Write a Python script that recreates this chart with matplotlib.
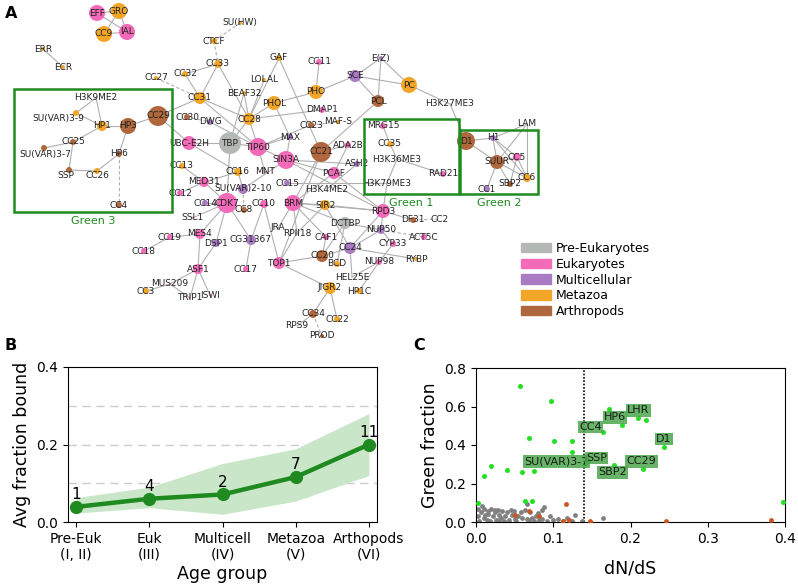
import matplotlib
matplotlib.use("Agg")
import matplotlib.pyplot as plt
from matplotlib.patches import Patch, Rectangle

# ---------------- panel A: network (layout, pixel units)
AGE_NAMES = ["Pre-Eukaryotes", "Eukaryotes", "Multicellular", "Metazoa", "Arthropods"]
AGE_COLORS = ["#b5b9b5", "#f36ab8", "#a97bc2", "#f2a527", "#b0673d"]

node_names = ["EFF", "GRO", "CC9", "IAL", "ERR", "ECR", "SU(HW)", "CTCF", "CC33", "CC27",
              "CC32", "LOLAL", "CC31", "BEAF32", "H3K9ME2", "SU(VAR)3-9", "HP1", "HP3", "CC29", "CC25",
              "SU(VAR)3-7", "HP6", "SSP", "CC26", "CC4", "CC30", "DWG", "CC28", "UBC-E2H", "TBP",
              "TIP60", "CC13", "CC16", "MNT", "MED31", "CC12", "SU(VAR)2-10", "CC14", "CDK7", "CC8",
              "CC10", "SSL1", "MES4", "CC19", "DSP1", "CG31367", "CC18", "ASF1", "CC17", "MUS209",
              "CC3", "TRIP1", "ISWI", "GAF", "CC11", "E(Z)", "SCE", "PC", "PHO", "PHOL",
              "PCL", "H3K27ME3", "DMAP1", "MAF-S", "CC23", "MAX", "CC21", "ADA2B", "SIN3A", "ASH2",
              "PCAF", "CC15", "H3K4ME2", "MRG15", "CC35", "H3K36ME3", "RAD21", "H3K79ME3", "D1", "H1",
              "LAM", "SUUR", "CC5", "CC6", "SBP2", "CC1", "BRM", "SIR2", "RPD3", "DF31",
              "CC2", "DCTBP", "NUP50", "ACT5C", "JRA", "RPII18", "CAF1", "CC24", "CYP33", "CC20",
              "BCD", "TOP1", "NUP98", "RYBP", "HEL25E", "JIGR2", "HP1C", "CC34", "CC22", "RPS9",
              "PROD"]
node_x = [97, 119, 104, 127, 43, 63, 240, 214, 218, 156,
          185, 264, 200, 244, 96, 76, 102, 128, 158, 73,
          44, 119, 69, 97, 119, 187, 210, 249, 189, 230,
          258, 182, 238, 265, 204, 180, 243, 205, 227, 244,
          264, 192, 200, 170, 216, 251, 144, 198, 246, 170,
          146, 190, 210, 279, 319, 381, 355, 409, 316, 274,
          378, 450, 322, 338, 311, 290, 321, 348, 286, 357,
          334, 287, 327, 383, 390, 397, 443, 387, 466, 493,
          527, 497, 517, 527, 510, 487, 293, 325, 383, 413,
          440, 345, 381, 424, 278, 297, 326, 350, 393, 322,
          337, 279, 379, 416, 352, 330, 359, 313, 337, 297,
          322]
node_y = [13, 11, 34, 32, 49, 67, 23, 41, 64, 78,
          74, 80, 98, 93, 98, 113, 126, 126, 116, 142,
          148, 154, 170, 171, 205, 117, 122, 119, 143, 143,
          147, 166, 172, 172, 182, 193, 189, 203, 203, 210,
          204, 218, 234, 237, 243, 240, 251, 269, 269, 284,
          291, 298, 295, 58, 62, 58, 76, 85, 92, 103,
          101, 104, 110, 122, 125, 137, 152, 145, 160, 164,
          173, 183, 189, 126, 144, 159, 174, 183, 141, 138,
          124, 162, 157, 178, 184, 189, 203, 205, 211, 220,
          219, 223, 230, 237, 228, 233, 237, 248, 244, 256,
          264, 263, 262, 259, 277, 288, 291, 314, 319, 326,
          336]
node_age = [1, 3, 3, 1, 3, 3, 3, 3, 3, 3,
            3, 3, 3, 3, 4, 3, 3, 4, 4, 4,
            4, 4, 4, 3, 4, 4, 2, 3, 1, 0,
            1, 3, 3, 4, 1, 1, 2, 2, 1, 4,
            1, 1, 1, 1, 2, 2, 1, 1, 1, 1,
            3, 1, 1, 3, 1, 2, 2, 3, 3, 3,
            4, 4, 1, 3, 4, 2, 4, 1, 1, 2,
            1, 2, 4, 1, 3, 4, 1, 4, 4, 2,
            4, 4, 1, 3, 4, 2, 1, 3, 1, 4,
            4, 0, 2, 1, 2, 0, 1, 2, 1, 4,
            3, 1, 1, 3, 4, 3, 3, 4, 3, 4,
            4]
node_radius = [8, 8, 8, 8, 2, 2, 2, 3, 4, 2,
               3, 2, 6, 2, 0, 3, 5, 8, 10, 3,
               3, 3, 3, 3, 3, 3, 3, 6, 7, 11,
               9, 3, 4, 1, 5, 3, 5, 3, 10, 3,
               4, 1, 5, 3, 4, 5, 3, 5, 3, 1,
               3, 1, 1, 3, 3, 2, 6, 8, 7, 7,
               6, 0, 3, 2, 3, 3, 10, 3, 9, 3,
               6, 3, 0, 3, 3, 0, 3, 0, 9, 3,
               0, 7, 4, 4, 3, 3, 8, 5, 7, 3,
               0, 6, 4, 3, 1, 2, 3, 6, 3, 6,
               3, 6, 3, 2, 0, 6, 3, 4, 3, 0,
               2]
label_shift = {"SU(VAR)3-9": (-18, 5), "SU(VAR)3-7": (1, 6), "SSP": (-3, 5),
               "CC26": (0, 5), "SU(VAR)2-10": (0, -1)}

edges = [("EFF", "GRO"), ("EFF", "IAL"), ("GRO", "CC9"), ("CC9", "IAL"), ("GRO", "IAL"),
         ("ERR", "ECR"), ("CC33", "CC32"), ("CC33", "CC31"), ("CC33", "CC28"),
         ("CC31", "CC29"), ("CC31", "CC28"), ("CC31", "TIP60"), ("CC32", "CC31"),
         ("H3K9ME2", "HP1"), ("H3K9ME2", "SU(VAR)3-9"), ("SU(VAR)3-9", "HP1"),
         ("HP1", "HP3"), ("HP3", "CC29"), ("HP3", "HP6"), ("HP1", "CC25"),
         ("CC25", "SU(VAR)3-7"), ("CC25", "SSP"), ("SSP", "CC26"), ("CC26", "HP6"),
         ("CC29", "UBC-E2H"), ("UBC-E2H", "TBP"), ("UBC-E2H", "CC16"), ("CC13", "MED31"),
         ("TBP", "CC28"), ("TBP", "CDK7"), ("TBP", "BEAF32"), ("TBP", "TIP60"),
         ("DWG", "TIP60"), ("BEAF32", "CC28"), ("LOLAL", "CC28"), ("GAF", "CC28"), ("GAF", "CC21"),
         ("CC28", "PHOL"), ("CC28", "DMAP1"), ("CC28", "TIP60"),
         ("PHOL", "PHO"), ("PHOL", "MAX"), ("PHO", "CC11"), ("PHO", "SCE"), ("SCE", "E(Z)"),
         ("SCE", "PC"), ("SCE", "PCL"), ("E(Z)", "PCL"), ("E(Z)", "PC"), ("PC", "H3K27ME3"),
         ("H3K27ME3", "D1"), ("PCL", "CC21"), ("TIP60", "MAX"), ("TIP60", "SIN3A"),
         ("TIP60", "CC23"), ("TIP60", "MNT"), ("SIN3A", "PCAF"), ("SIN3A", "RPD3"),
         ("SIN3A", "MAX"), ("SIN3A", "ASH2"), ("SIN3A", "SU(VAR)2-10"),
         ("CC21", "ADA2B"), ("CC21", "BRM"), ("CC21", "TOP1"), ("ADA2B", "PCAF"),
         ("PCAF", "BRM"), ("ASH2", "H3K4ME2"), ("PCAF", "RPD3"),
         ("MRG15", "CC35"), ("CC35", "H3K36ME3"), ("H3K36ME3", "RAD21"), ("H3K36ME3", "H3K79ME3"),
         ("H3K79ME3", "RPD3"), ("H3K79ME3", "CC15"),
         ("D1", "H1"), ("D1", "SUUR"), ("H1", "LAM"), ("H1", "SUUR"), ("H1", "CC5"),
         ("LAM", "SUUR"), ("LAM", "CC6"), ("SUUR", "CC5"), ("SUUR", "SBP2"), ("SUUR", "CC1"),
         ("SUUR", "CC6"), ("CC5", "CC6"), ("CC5", "SBP2"), ("H1", "CC6"),
         ("MED31", "CDK7"), ("MED31", "CC12"), ("MED31", "CC16"), ("CC16", "SU(VAR)2-10"),
         ("CDK7", "CC14"), ("CDK7", "SSL1"), ("CDK7", "MES4"), ("CDK7", "DSP1"), ("CDK7", "CG31367"),
         ("CC10", "CG31367"), ("CC10", "TOP1"), ("CG31367", "CC17"),
         ("MES4", "CC19"), ("CC19", "CC18"), ("MES4", "ASF1"), ("ASF1", "DSP1"),
         ("ASF1", "MUS209"), ("ASF1", "TRIP1"), ("ASF1", "ISWI"), ("MUS209", "CC3"),
         ("MUS209", "TRIP1"), ("BRM", "RPII18"), ("BRM", "SIR2"), ("BRM", "RPD3"),
         ("BRM", "DCTBP"), ("BRM", "CAF1"), ("BRM", "JRA"), ("SIR2", "RPII18"),
         ("SIR2", "CC24"), ("SIR2", "RPD3"), ("RPD3", "DF31"), ("RPD3", "CC24"), ("RPD3", "NUP50"),
         ("DCTBP", "CC20"), ("DCTBP", "BCD"), ("DCTBP", "NUP50"), ("NUP50", "CYP33"),
         ("NUP50", "CC24"), ("CC24", "RYBP"), ("CC24", "HEL25E"), ("CC24", "CC20"),
         ("CC20", "TOP1"), ("CC20", "CAF1"), ("TOP1", "JIGR2"), ("JIGR2", "CC34"),
         ("JIGR2", "CC22"), ("CC34", "RPS9"), ("NUP98", "HEL25E"), ("NUP98", "CYP33"),
         ("NUP98", "HP1C"), ("RPII18", "TOP1")]
dashed_edges = [("SU(HW)", "CTCF"), ("CTCF", "CC33"), ("CC27", "CC31"), ("HP6", "CC4"),
                ("SU(VAR)2-10", "CC8"), ("DF31", "CC2"), ("NUP50", "ACT5C"), ("CC34", "PROD"),
                ("CC23", "MAF-S"), ("CC30", "DWG")]

# green boxes
box_names = ["Green 3", "Green 1", "Green 2"]
box_x0 = [14, 364, 460]
box_y0 = [89, 119, 130]
box_x1 = [172, 459, 538]
box_y1 = [212, 194, 194]

# ---------------- panel B
age_groups = ["Pre-Euk\n(I, II)", "Euk\n(III)", "Multicell\n(IV)", "Metazoa\n(V)", "Arthopods\n(VI)"]
avg_bound = [0.039, 0.060, 0.071, 0.116, 0.200]
band_low = [0.023, 0.037, 0.020, 0.054, 0.120]
band_high = [0.063, 0.090, 0.151, 0.189, 0.280]
group_counts = [1, 4, 2, 7, 11]

# ---------------- panel C
green_dnds = [0.002, 0.010, 0.019, 0.040, 0.057, 0.060, 0.064, 0.068, 0.073, 0.075,
              0.097, 0.101, 0.124, 0.124, 0.141, 0.145, 0.164, 0.172, 0.178, 0.189,
              0.210, 0.220, 0.216, 0.244, 0.397]
green_frac = [0.099, 0.237, 0.289, 0.272, 0.705, 0.258, 0.108, 0.436, 0.111, 0.263,
              0.627, 0.419, 0.423, 0.362, 0.300, 0.315, 0.468, 0.589, 0.296, 0.504,
              0.540, 0.530, 0.275, 0.390, 0.106]
arth_dnds = [0.051, 0.068, 0.081, 0.116, 0.112, 0.120, 0.148, 0.246, 0.382]
arth_frac = [0.038, 0.059, 0.029, 0.094, 0.007, 0.009, 0.003, 0.003, 0.012]
gray_dnds = [0.002, 0.003, 0.004, 0.006, 0.008, 0.010, 0.012, 0.014, 0.016, 0.018,
             0.020, 0.022, 0.024, 0.026, 0.028, 0.030, 0.032, 0.034, 0.036, 0.038,
             0.040, 0.043, 0.046, 0.049, 0.052, 0.055, 0.058, 0.060, 0.063, 0.066,
             0.068, 0.070, 0.072, 0.075, 0.078, 0.080, 0.082, 0.085, 0.088, 0.092,
             0.096, 0.100, 0.106, 0.112, 0.118, 0.124, 0.128, 0.137, 0.165, 0.010,
             0.015, 0.025, 0.030, 0.045, 0.050, 0.066, 0.086]
gray_frac = [0.069, 0.029, 0.003, 0.050, 0.081, 0.021, 0.038, 0.012, 0.055, 0.003,
             0.068, 0.029, 0.050, 0.012, 0.064, 0.038, 0.021, 0.055, 0.003, 0.029,
             0.050, 0.012, 0.038, 0.055, 0.003, 0.029, 0.050, 0.021, 0.060, 0.095,
             0.009, 0.050, 0.021, 0.003, 0.029, 0.045, 0.009, 0.016, 0.078, 0.003,
             0.029, 0.009, 0.016, 0.003, 0.021, 0.003, 0.035, 0.003, 0.020, 0.070,
             0.040, 0.060, 0.008, 0.060, 0.015, 0.015, 0.062]
tag_names = ["CC4", "HP6", "LHR", "D1", "SU(VAR)3-7", "SSP", "SBP2", "CC29"]
tag_x = [0.148, 0.180, 0.210, 0.243, 0.104, 0.156, 0.177, 0.214]
tag_y = [0.494, 0.544, 0.580, 0.431, 0.315, 0.332, 0.258, 0.315]
dnds_cut = 0.14

GREEN = "#1f8a1f"

fig = plt.figure(figsize=(7.98, 5.84), dpi=100)

# ---- A
ax = fig.add_axes([0, 0, 1, 1])
ax.set_xlim(0, 798)
ax.set_ylim(584, 0)
ax.axis("off")
pos = {n: (x, y) for n, x, y in zip(node_names, node_x, node_y)}
for a, b in edges:
    ax.plot([pos[a][0], pos[b][0]], [pos[a][1], pos[b][1]], color="#b0b0b0", lw=0.8, zorder=1)
for a, b in dashed_edges:
    ax.plot([pos[a][0], pos[b][0]], [pos[a][1], pos[b][1]], color="#b0b0b0", lw=0.8,
            ls=(0, (3, 2)), zorder=1)
ax.scatter(node_x, node_y, s=[(1.44 * r) ** 2 for r in node_radius],
           c=[AGE_COLORS[g] for g in node_age], linewidths=0, zorder=2)
for n, x, y in zip(node_names, node_x, node_y):
    dx, dy = label_shift.get(n, (0, 0))
    ax.text(x + dx, y + dy, n, fontsize=6.5, color="#222222", ha="center", va="center", zorder=3)
for n, x0, y0, x1, y1 in zip(box_names, box_x0, box_y0, box_x1, box_y1):
    ax.add_patch(Rectangle((x0, y0), x1 - x0, y1 - y0, fill=False, ec=GREEN, lw=1.8, zorder=4))
    ax.text((x0 + x1) / 2, y1 + 9, n, color=GREEN, fontsize=8, ha="center", va="center")
ax.text(5, 13, "A", fontsize=11.5, fontweight="bold", va="center")
ax.text(5, 346, "B", fontsize=11.5, fontweight="bold", va="center")
ax.text(413, 346, "C", fontsize=11.5, fontweight="bold", va="center")
handles = [Patch(color=c, label=l) for c, l in zip(AGE_COLORS, AGE_NAMES)]
fig.legend(handles=handles, loc="upper left", bbox_to_anchor=(521 / 798, 1 - 242 / 584),
           frameon=False, fontsize=9, handlelength=2.4, handleheight=0.8,
           labelspacing=0.22, handletextpad=0.4, borderpad=0, borderaxespad=0)

# ---- B
axb = fig.add_axes([68 / 798, 1 - 522 / 584, 309 / 798, 155 / 584])
xs = list(range(len(age_groups)))
axb.fill_between(xs, band_low, band_high, color="#c9e6c9", lw=0)
axb.plot(xs, avg_bound, color=GREEN, lw=3.2, marker="o", ms=8.5)
for x, v, c in zip(xs, avg_bound, group_counts):
    axb.text(x, v + 0.012, str(c), ha="center", va="bottom", fontsize=11)
for yv in [0.1, 0.2, 0.3]:
    axb.axhline(yv, color="#cccccc", lw=1, ls=(0, (6, 4)), zorder=0)
axb.set_xlim(-0.11, 4.11)
axb.set_ylim(0, 0.4)
axb.set_yticks([0.0, 0.2, 0.4])
axb.set_xticks(xs)
axb.set_xticklabels(age_groups, fontsize=10)
axb.tick_params(axis="y", labelsize=10)
axb.set_ylabel("Avg fraction bound", fontsize=12.5)
axb.set_xlabel("Age group", fontsize=12.5, labelpad=2)

# ---- C
axc = fig.add_axes([476 / 798, 1 - 522 / 584, 309 / 798, 154 / 584])
axc.scatter(gray_dnds, gray_frac, s=12, color="#808080", lw=0, zorder=2)
axc.scatter(arth_dnds, arth_frac, s=12, color="#c8561e", lw=0, zorder=3)
axc.scatter(green_dnds, green_frac, s=13, color="#22e022", lw=0, zorder=3)
axc.axvline(dnds_cut, color="black", lw=1.2, ls=(0, (1, 1)), zorder=1)
for n, x, y in zip(tag_names, tag_x, tag_y):
    axc.text(x, y, n, fontsize=8, ha="center", va="center", color="#1a1a1a", zorder=4,
             bbox=dict(boxstyle="square,pad=0.12", fc="#4ca64c", ec="none", alpha=0.85))
axc.set_xlim(0, 0.4)
axc.set_ylim(0, 0.8)
axc.set_xticks([0.0, 0.1, 0.2, 0.3, 0.4])
axc.set_yticks([0.0, 0.2, 0.4, 0.6, 0.8])
axc.tick_params(labelsize=10)
axc.set_ylabel("Green fraction", fontsize=12.5)
axc.set_xlabel("dN/dS", fontsize=12.5, labelpad=10)

plt.savefig("out.png", dpi=100)
